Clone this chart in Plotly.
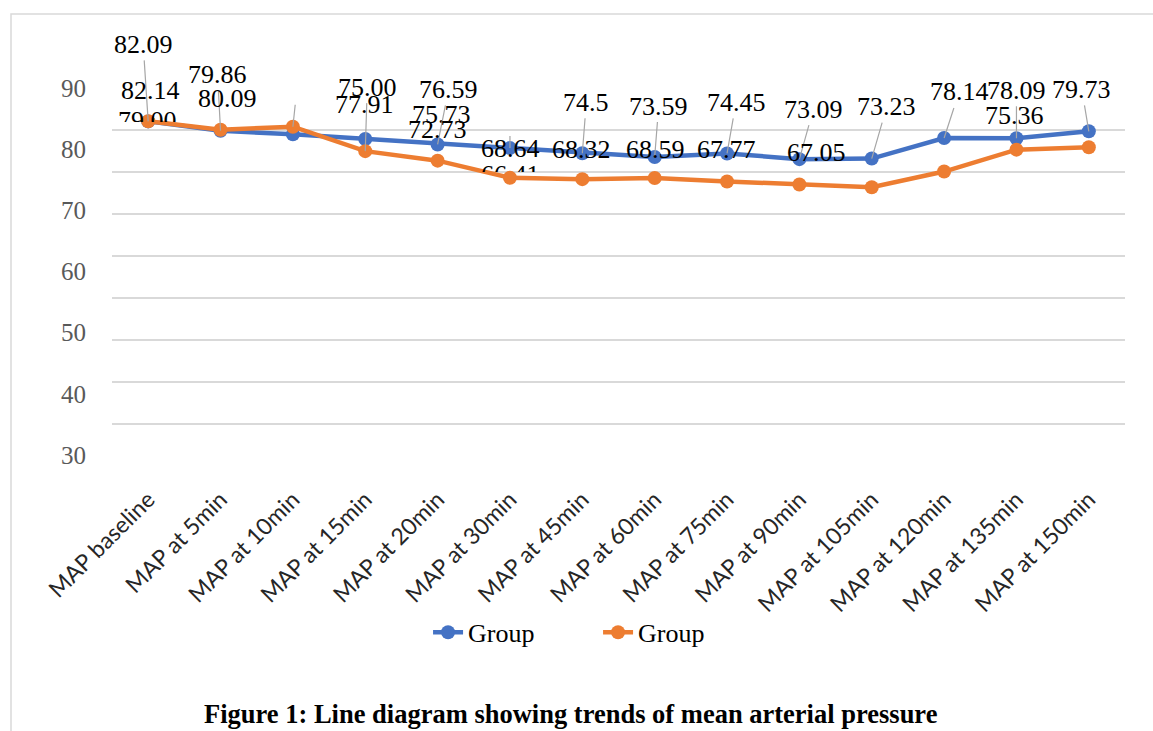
import plotly.graph_objects as go

# Time points on the horizontal axis
categories = [
    "MAP baseline", "MAP at 5min", "MAP at 10min", "MAP at 15min",
    "MAP at 20min", "MAP at 30min", "MAP at 45min", "MAP at 60min",
    "MAP at 75min", "MAP at 90min", "MAP at 105min", "MAP at 120min",
    "MAP at 135min", "MAP at 150min",
]

# Mean arterial pressure per group
group_a = [82.09, 79.86, 79.00, 77.91, 76.59, 75.73, 74.5, 73.59,
           74.45, 73.09, 73.23, 78.14, 78.09, 79.73]
group_b = [82.14, 80.09, 80.82, 75.00, 72.73, 68.64, 68.32, 68.59,
           67.77, 67.05, 66.41, 70.14, 75.36, 75.91]

# Printed value labels (None = label not shown)
labels_a = ["82.09", "79.86", "79.00", "77.91", "76.59", "75.73", "74.5", "73.59",
            "74.45", "73.09", "73.23", "78.14", "78.09", "79.73"]
labels_b = ["82.14", "80.09", None, "75.00", "72.73", "68.64", "68.32", "68.59",
            "67.77", "67.05", "66.41", None, "75.36", None]

series_names = ["Group", "Group"]

# Tick labels of the value axis
value_ticks = [90, 80, 70, 60, 50, 40, 30]

BLUE = "#4472C4"
ORANGE = "#ED7D31"
GRID = "#D9D9D9"
LEADER = "#A6A6A6"

fig = go.Figure()
for vals, name, color in [(group_a, series_names[0], BLUE),
                          (group_b, series_names[1], ORANGE)]:
    fig.add_trace(go.Scatter(
        x=categories, y=vals, name=name, mode="lines+markers",
        line=dict(color=color, width=4.5),
        marker=dict(color=color, size=14),
    ))

# Invisible carrier so the printed value scale is rendered
fig.add_trace(go.Scatter(
    x=[categories[0]], y=[value_ticks[0]], yaxis="y2", mode="markers",
    marker=dict(opacity=0), showlegend=False, hoverinfo="skip",
))

# Label placement: (series, index, dx px, dy px, leader line, clip height, label only)
placement = [
    ("a", 0, -5, -77, True, None, True),
    ("a", 1, -3, -56, True, None, True),
    ("a", 2, -145, -20, False, 16, True),
    ("a", 3, -1, -34, False, None, True),
    ("a", 5, -68, -34, False, None, True),
    ("a", 4, 11, -55, True, None, True),
    ("a", 5, 0, -28, True, None, False),
    ("a", 6, 4, -51, True, None, True),
    ("a", 7, 4, -51, True, None, True),
    ("a", 8, 9, -51, True, None, True),
    ("a", 9, 14, -50, True, None, True),
    ("a", 10, 15, -52, True, None, True),
    ("a", 11, 15, -46, True, None, True),
    ("a", 12, 0, -48, True, None, True),
    ("a", 13, -7, -42, True, None, True),
    ("b", 0, 2, -31, False, None, True),
    ("b", 1, 7, -31, False, None, True),
    ("b", 2, 4, -38, True, None, False),
    ("b", 3, 2, -64, True, None, True),
    ("b", 4, 0, -31, False, None, True),
    ("b", 5, 1, -29, False, None, True),
    ("b", 6, -1, -30, False, None, True),
    ("b", 7, 1, -29, False, None, True),
    ("b", 8, -1, -32, False, None, True),
    ("b", 9, 17, -32, False, None, True),
    ("b", 10, -361, -21, False, 12, True),
    ("b", 12, -2, -34, False, None, True),
]

data = {"a": (group_a, labels_a), "b": (group_b, labels_b)}
annotations = []
for s, i, dx, dy, leader, clip, has_text in placement:
    vals, texts = data[s]
    ann = dict(
        x=categories[i], y=vals[i], xref="x", yref="y",
        text=texts[i] if has_text else " ",
        showarrow=True, arrowhead=0, standoff=0,
        arrowwidth=1.2, arrowcolor=LEADER if leader else "rgba(0,0,0,0)",
        ax=dx, ay=dy,
        font=dict(family="Liberation Serif", size=26, color="#000000"),
    )
    if clip is not None:
        ann.update(height=clip, valign="top")
    annotations.append(ann)

fig.update_layout(
    width=1153, height=731, autosize=False,
    margin=dict(l=112, r=28, t=88, b=265),
    paper_bgcolor="white", plot_bgcolor="white",
    showlegend=True,
    legend=dict(
        orientation="h", x=0.312, xanchor="left", y=-0.44, yanchor="middle",
        bgcolor="rgba(0,0,0,0)",
        font=dict(family="Liberation Serif", size=26, color="#000000"),
        entrywidth=125, entrywidthmode="pixels",
    ),
    xaxis=dict(
        type="category", range=[-0.5, len(categories) - 0.5],
        showgrid=False, showline=False, zeroline=False,
        tickangle=-45, ticks="outside", ticklen=10, tickcolor="rgba(0,0,0,0)",
        tickfont=dict(family="Lato", size=23, color="#262626"),
    ),
    yaxis=dict(
        range=[-0.05, 90.05], dtick=10, showgrid=True, gridcolor=GRID,
        gridwidth=1.5, zeroline=False, showline=False,
        showticklabels=False, ticks="",
    ),
    yaxis2=dict(
        overlaying="y", anchor="x", side="left", range=[28.2, 90],
        tickvals=value_ticks, showgrid=False, zeroline=False, showline=False,
        ticks="outside", ticklen=20, tickcolor="rgba(0,0,0,0)",
        tickfont=dict(family="Liberation Serif", size=25, color="#595959"),
    ),
    title=dict(
        text="<b>Figure 1: Line diagram showing trends of mean arterial pressure</b>",
        x=0.495, xanchor="center", y=0.023, yanchor="middle",
        xref="container", yref="container",
        font=dict(family="Liberation Serif", size=26.5, color="#000000"),
    ),
    annotations=annotations,
    shapes=[dict(
        type="rect", xref="paper", yref="paper",
        x0=-0.0997, x1=1.04, y0=-0.73, y1=1.1958,
        line=dict(color=GRID, width=1.5), fillcolor="rgba(0,0,0,0)",
        layer="below",
    )],
)

fig.write_html("out.html")
